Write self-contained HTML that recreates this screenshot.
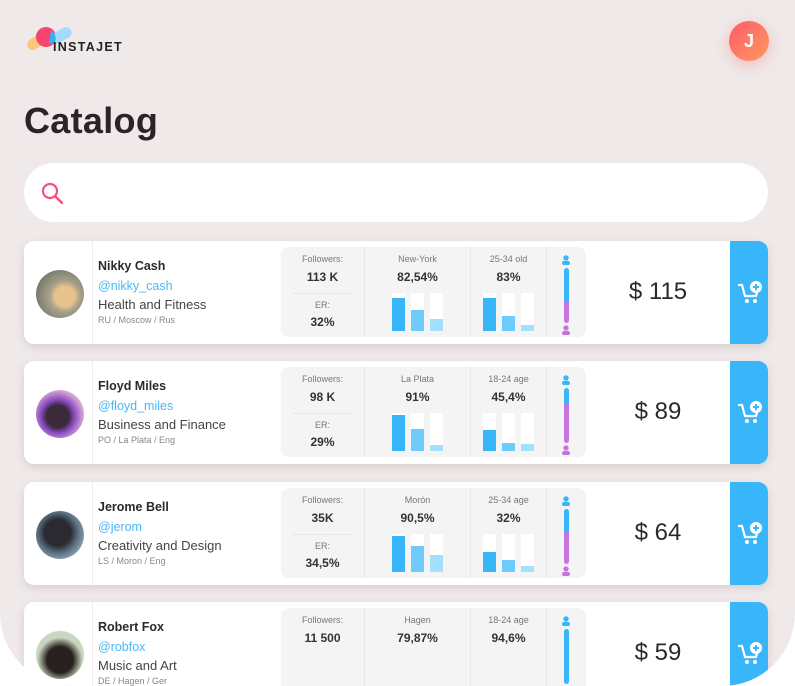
<!DOCTYPE html>
<html><head><meta charset="utf-8"><style>
*{margin:0;padding:0;box-sizing:border-box}
html,body{width:795px;height:650px;overflow:hidden;background:#fff;font-family:"Liberation Sans",sans-serif}
#app{position:absolute;left:0;top:0;width:795px;height:686px;background:#efe9e9;border-radius:0 0 73px 73px;overflow:hidden}
.abs{position:absolute}
.logo-t{left:53px;top:40px;font-size:12.5px;font-weight:bold;letter-spacing:1.3px;color:#222}
.avj{left:729px;top:21px;width:40px;height:40px;border-radius:50%;background:linear-gradient(135deg,#ff5a6e,#ff9a5a);color:#fff;font-size:18px;font-weight:bold;text-align:center;line-height:40px;box-shadow:0 4px 14px rgba(255,100,100,.35)}
h1{position:absolute;left:24px;top:100px;font-size:36px;font-weight:bold;color:#2c2326;letter-spacing:.3px}
.search{left:24px;top:163px;width:744px;height:59px;background:#fff;border-radius:30px}
.card{position:absolute;left:24px;width:744px;height:103px;background:#fff;border-radius:10px;box-shadow:0 3px 8px rgba(120,90,90,.18)}
.av{position:absolute;left:12px;top:29px;width:48px;height:48px;border-radius:50%}
.vd{position:absolute;left:68px;top:0;width:1px;height:103px;background:#f0eded}
.nm{position:absolute;left:74px;top:18px;font-size:12.5px;font-weight:bold;color:#2a2a2a}
.hd{position:absolute;left:74px;top:38px;font-size:12.5px;color:#4ab7f5}
.ct{position:absolute;left:74px;top:56px;font-size:13px;color:#444}
.lc{position:absolute;left:74px;top:74px;font-size:9px;color:#888}
.pn{position:absolute;left:257px;top:6px;width:305px;height:90px;background:#f4f4f4;border-radius:8px}
.sec{position:absolute;top:0;height:90px;border-right:1px solid #e8e8e8;text-align:center}
.lb{position:absolute;left:0;right:0;font-size:9px;color:#777;text-align:center}
.vl{position:absolute;left:0;right:0;font-size:12px;font-weight:bold;color:#333;text-align:center}
.bar{position:absolute;top:46px;width:13px;height:38px;background:#fff}
.bar i{position:absolute;left:0;bottom:0;width:13px;display:block}
.c1{background:#38b6f9}.c2{background:#6fcbfb}.c3{background:#a6defd}
.price{position:absolute;left:574px;width:120px;top:37px;text-align:center;font-size:24px;color:#2a2a2a}
.btn{position:absolute;left:706px;top:0;width:38px;height:103px;background:#38b6f9;border-radius:0 10px 10px 0}
</style></head><body><div id="app">
<svg class="abs" style="left:24px;top:24px" width="50" height="30"><rect x="2" y="12" width="22" height="11" rx="5.5" fill="#fdc77a" transform="rotate(-35 13 17)"/><circle cx="22" cy="13" r="10" fill="#f5446e"/><rect x="26" y="6" width="22" height="11" rx="5.5" fill="#9fdcfd" transform="rotate(-30 37 11)"/><path d="M27 6 a10 10 0 0 1 4 12 l-6 2z" fill="#3aaef5"/></svg>
<div class="abs logo-t">INSTAJET</div>
<div class="abs avj">J</div>
<h1>Catalog</h1>
<div class="abs search"><svg class="abs" style="left:16px;top:18px" width="26" height="26"><circle cx="10" cy="10" r="7" stroke="#f5507a" stroke-width="2.2" fill="none"/><line x1="15" y1="15" x2="22" y2="22" stroke="#f5507a" stroke-width="2.4" stroke-linecap="round"/></svg></div>

<div class="card" style="top:241px">
<div class="av" style="background:radial-gradient(circle at 60% 55%,#e8c38a 0 25%,#a6a08a 40%,#6f7566 80%)"></div><div class="vd"></div>
<div class="nm">Nikky Cash</div><div class="hd">@nikky_cash</div><div class="ct">Health and Fitness</div><div class="lc">RU / Moscow / Rus</div>
<div class="pn">
<div class="sec" style="left:0;width:84px"><div class="lb" style="top:7px">Followers:</div><div class="vl" style="top:23px">113 K</div><div class="abs" style="left:12px;right:12px;top:46px;height:1px;background:#e6e6e6"></div><div class="lb" style="top:53px">ER:</div><div class="vl" style="top:68px">32%</div></div>
<div class="sec" style="left:84px;width:106px"><div class="lb" style="top:7px">New-York</div><div class="vl" style="top:23px">82,54%</div>
<div class="bar" style="left:27px"><i class="c1" style="height:33px"></i></div><div class="bar" style="left:46px"><i class="c2" style="height:21px"></i></div><div class="bar" style="left:65px"><i class="c3" style="height:12px"></i></div></div>
<div class="sec" style="left:190px;width:76px"><div class="lb" style="top:7px">25-34 old</div><div class="vl" style="top:23px">83%</div>
<div class="bar" style="left:12px"><i class="c1" style="height:33px"></i></div><div class="bar" style="left:31px"><i class="c2" style="height:15px"></i></div><div class="bar" style="left:50px"><i class="c3" style="height:6px"></i></div></div>
<div class="sec" style="left:266px;width:39px;border:none"><svg class="abs" style="left:14px;top:8px" width="10" height="10"><circle cx="5" cy="3" r="2.7" fill="#38b6f9"/><rect x="1" y="6" width="8" height="4" rx="2" fill="#38b6f9"/></svg><div class="abs" style="left:17px;top:21px;width:5px;height:55px;border-radius:3px;background:linear-gradient(#38b6f9 0 60%,#c774e0 60%)"></div><svg class="abs" style="left:14px;top:78px" width="10" height="10"><circle cx="5" cy="3" r="2.7" fill="#c774e0"/><rect x="1" y="6" width="8" height="4" rx="2" fill="#c774e0"/></svg></div>
</div>
<div class="price">$ 115</div>
<div class="btn"><svg class="abs" style="left:7px;top:40px" width="26" height="24"><path d="M1 4h4l3 11h11l2-7" stroke="#fff" stroke-width="2.2" fill="none"/><circle cx="10" cy="20" r="2" fill="#fff"/><circle cx="18" cy="20" r="2" fill="#fff"/><circle cx="19" cy="6" r="6" fill="#fff"/><path d="M19 3v6M16 6h6" stroke="#38b6f9" stroke-width="2"/></svg></div>
</div>

<div class="card" style="top:361px">
<div class="av" style="background:radial-gradient(circle at 45% 55%,#3a2a3a 0 30%,#8a4ac0 45%,#d7a8d6 70%)"></div><div class="vd"></div>
<div class="nm">Floyd Miles</div><div class="hd">@floyd_miles</div><div class="ct">Business and Finance</div><div class="lc">PO / La Plata / Eng</div>
<div class="pn">
<div class="sec" style="left:0;width:84px"><div class="lb" style="top:7px">Followers:</div><div class="vl" style="top:23px">98 K</div><div class="abs" style="left:12px;right:12px;top:46px;height:1px;background:#e6e6e6"></div><div class="lb" style="top:53px">ER:</div><div class="vl" style="top:68px">29%</div></div>
<div class="sec" style="left:84px;width:106px"><div class="lb" style="top:7px">La Plata</div><div class="vl" style="top:23px">91%</div>
<div class="bar" style="left:27px"><i class="c1" style="height:36px"></i></div><div class="bar" style="left:46px"><i class="c2" style="height:22px"></i></div><div class="bar" style="left:65px"><i class="c3" style="height:6px"></i></div></div>
<div class="sec" style="left:190px;width:76px"><div class="lb" style="top:7px">18-24 age</div><div class="vl" style="top:23px">45,4%</div>
<div class="bar" style="left:12px"><i class="c1" style="height:21px"></i></div><div class="bar" style="left:31px"><i class="c2" style="height:8px"></i></div><div class="bar" style="left:50px"><i class="c3" style="height:7px"></i></div></div>
<div class="sec" style="left:266px;width:39px;border:none"><svg class="abs" style="left:14px;top:8px" width="10" height="10"><circle cx="5" cy="3" r="2.7" fill="#38b6f9"/><rect x="1" y="6" width="8" height="4" rx="2" fill="#38b6f9"/></svg><div class="abs" style="left:17px;top:21px;width:5px;height:55px;border-radius:3px;background:linear-gradient(#38b6f9 0 28%,#c774e0 28%)"></div><svg class="abs" style="left:14px;top:78px" width="10" height="10"><circle cx="5" cy="3" r="2.7" fill="#c774e0"/><rect x="1" y="6" width="8" height="4" rx="2" fill="#c774e0"/></svg></div>
</div>
<div class="price">$ 89</div>
<div class="btn"><svg class="abs" style="left:7px;top:40px" width="26" height="24"><path d="M1 4h4l3 11h11l2-7" stroke="#fff" stroke-width="2.2" fill="none"/><circle cx="10" cy="20" r="2" fill="#fff"/><circle cx="18" cy="20" r="2" fill="#fff"/><circle cx="19" cy="6" r="6" fill="#fff"/><path d="M19 3v6M16 6h6" stroke="#38b6f9" stroke-width="2"/></svg></div>
</div>

<div class="card" style="top:482px">
<div class="av" style="background:radial-gradient(circle at 45% 45%,#2a2a30 0 35%,#5a7080 55%,#9ab0c0 80%)"></div><div class="vd"></div>
<div class="nm">Jerome Bell</div><div class="hd">@jerom</div><div class="ct">Creativity and Design</div><div class="lc">LS / Moron / Eng</div>
<div class="pn">
<div class="sec" style="left:0;width:84px"><div class="lb" style="top:7px">Followers:</div><div class="vl" style="top:23px">35K</div><div class="abs" style="left:12px;right:12px;top:46px;height:1px;background:#e6e6e6"></div><div class="lb" style="top:53px">ER:</div><div class="vl" style="top:68px">34,5%</div></div>
<div class="sec" style="left:84px;width:106px"><div class="lb" style="top:7px">Morón</div><div class="vl" style="top:23px">90,5%</div>
<div class="bar" style="left:27px"><i class="c1" style="height:36px"></i></div><div class="bar" style="left:46px"><i class="c2" style="height:26px"></i></div><div class="bar" style="left:65px"><i class="c3" style="height:17px"></i></div></div>
<div class="sec" style="left:190px;width:76px"><div class="lb" style="top:7px">25-34 age</div><div class="vl" style="top:23px">32%</div>
<div class="bar" style="left:12px"><i class="c1" style="height:20px"></i></div><div class="bar" style="left:31px"><i class="c2" style="height:12px"></i></div><div class="bar" style="left:50px"><i class="c3" style="height:6px"></i></div></div>
<div class="sec" style="left:266px;width:39px;border:none"><svg class="abs" style="left:14px;top:8px" width="10" height="10"><circle cx="5" cy="3" r="2.7" fill="#38b6f9"/><rect x="1" y="6" width="8" height="4" rx="2" fill="#38b6f9"/></svg><div class="abs" style="left:17px;top:21px;width:5px;height:55px;border-radius:3px;background:linear-gradient(#38b6f9 0 42%,#c774e0 42%)"></div><svg class="abs" style="left:14px;top:78px" width="10" height="10"><circle cx="5" cy="3" r="2.7" fill="#c774e0"/><rect x="1" y="6" width="8" height="4" rx="2" fill="#c774e0"/></svg></div>
</div>
<div class="price">$ 64</div>
<div class="btn"><svg class="abs" style="left:7px;top:40px" width="26" height="24"><path d="M1 4h4l3 11h11l2-7" stroke="#fff" stroke-width="2.2" fill="none"/><circle cx="10" cy="20" r="2" fill="#fff"/><circle cx="18" cy="20" r="2" fill="#fff"/><circle cx="19" cy="6" r="6" fill="#fff"/><path d="M19 3v6M16 6h6" stroke="#38b6f9" stroke-width="2"/></svg></div>
</div>

<div class="card" style="top:602px">
<div class="av" style="background:radial-gradient(circle at 50% 60%,#2a2020 0 35%,#c8d8c0 60%)"></div><div class="vd"></div>
<div class="nm">Robert Fox</div><div class="hd">@robfox</div><div class="ct">Music and Art</div><div class="lc">DE / Hagen / Ger</div>
<div class="pn">
<div class="sec" style="left:0;width:84px"><div class="lb" style="top:7px">Followers:</div><div class="vl" style="top:23px">11 500</div></div>
<div class="sec" style="left:84px;width:106px"><div class="lb" style="top:7px">Hagen</div><div class="vl" style="top:23px">79,87%</div></div>
<div class="sec" style="left:190px;width:76px"><div class="lb" style="top:7px">18-24 age</div><div class="vl" style="top:23px">94,6%</div></div>
<div class="sec" style="left:266px;width:39px;border:none"><svg class="abs" style="left:14px;top:8px" width="10" height="10"><circle cx="5" cy="3" r="2.7" fill="#38b6f9"/><rect x="1" y="6" width="8" height="4" rx="2" fill="#38b6f9"/></svg><div class="abs" style="left:17px;top:21px;width:5px;height:55px;border-radius:3px;background:#38b6f9"></div></div>
</div>
<div class="price">$ 59</div>
<div class="btn"><svg class="abs" style="left:7px;top:40px" width="26" height="24"><path d="M1 4h4l3 11h11l2-7" stroke="#fff" stroke-width="2.2" fill="none"/><circle cx="10" cy="20" r="2" fill="#fff"/><circle cx="18" cy="20" r="2" fill="#fff"/><circle cx="19" cy="6" r="6" fill="#fff"/><path d="M19 3v6M16 6h6" stroke="#38b6f9" stroke-width="2"/></svg></div>
</div>
</div></body></html>
